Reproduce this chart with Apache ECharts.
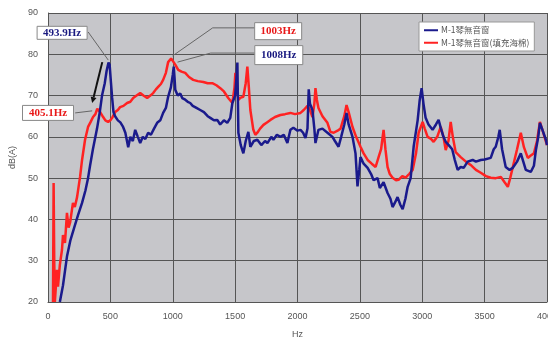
<!DOCTYPE html>
<html><head><meta charset="utf-8">
<script src="https://cdn.jsdelivr.net/npm/echarts@6/dist/echarts.min.js"></script>
<style>html,body{margin:0;padding:0;background:#fff}#c{width:548px;height:338px}</style>
</head><body><div id="c"></div>
<script>
const xTicks = [0, 4000, 500];
const yTicks = [20, 90, 10];
const seriesNames = ['M-1琴無音窗', 'M-1琴無音窗(填充海棉)'];
const blueData = [[95,20],[120,24],[152,31],[180,35],[210,38],[240,41],[273,44],[300,47],[321,50],[337,53],[360,57],[393,62],[415,66],[433,70],[455,73],[470,76],[485,78],[494,77.5],[505,73],[514,69.5],[525,66],[538,65],[560,64],[580,63.5],[602,62.4],[620,61],[643,57.5],[660,60],[680,59],[699,61.7],[720,60],[739,58.5],[760,60],[780,59.5],[803,61],[825,60.5],[850,62],[875,63.4],[900,64],[923,65.8],[945,67],[963,69.7],[985,72],[1000,75],[1008,77],[1015,74],[1020,71.4],[1040,70],[1060,70.5],[1076,69.4],[1100,69],[1120,68.5],[1140,68.2],[1160,67.5],[1190,67],[1220,66.5],[1250,66],[1280,65],[1301,64.6],[1330,64],[1357,64.1],[1380,63],[1410,64],[1437,63.4],[1461,64.6],[1478,68.2],[1500,70],[1510,74],[1518,78],[1526,61],[1545,58],[1566,56],[1585,59],[1606,61.2],[1622,57.6],[1650,59],[1678,59.3],[1710,58],[1740,59],[1759,58.5],[1790,60],[1807,59.3],[1835,60.5],[1863,60],[1890,60.5],[1919,58.5],[1943,61.7],[1967,62.2],[2000,61.5],[2024,61.7],[2045,61],[2064,59.7],[2080,62],[2090,71.5],[2100,68],[2120,66.5],[2135,62],[2144,58.5],[2168,61.7],[2200,62],[2240,61],[2280,60],[2300,59],[2329,57.6],[2350,60],[2375,63],[2393,65.8],[2410,63],[2441,60],[2465,56],[2481,48],[2495,52],[2505,55.1],[2530,53.5],[2562,52.5],[2590,51],[2610,49.5],[2642,50],[2660,47.6],[2690,49],[2722,46.4],[2745,45],[2762,43],[2780,44],[2802,45.4],[2825,43.5],[2843,42.5],[2865,45],[2883,47.9],[2907,50],[2931,57.6],[2963,64],[2980,69],[2995,71.8],[3010,68],[3027,64.6],[3050,63],[3083,61.7],[3110,63],[3131,64.1],[3150,62],[3170,60],[3188,58.8],[3212,58],[3240,57],[3260,54.5],[3284,52],[3308,52.7],[3332,52.5],[3364,54],[3404,54.4],[3430,54],[3469,54.4],[3500,54.5],[3549,54.9],[3573,57],[3589,57.6],[3610,60],[3621,61.7],[3640,57],[3669,52.7],[3700,52],[3726,52.5],[3760,54],[3790,56],[3810,54],[3830,52],[3870,51.5],[3895,53],[3911,56.8],[3930,60],[3943,63.4],[3960,62],[3991,59.3],[4000,58]];
const redData = [[40,20],[45,48.8],[50,30],[55,20],[72,27.8],[80,23.7],[95,29],[112,32.6],[120,36.2],[136,34.3],[152,41.6],[165,38],[177,39.2],[200,44],[215,43],[233,45.4],[257,50.3],[273,54.4],[297,59.3],[321,62.4],[340,63.5],[361,64.8],[380,65.5],[395,66.8],[405,67],[418,66],[442,64.8],[460,64],[482,63.6],[500,64],[514,64.6],[538,66],[560,66.5],[578,67.2],[605,67.5],[634,68.2],[660,68.5],[683,69.4],[710,70],[739,70.6],[765,70],[795,69.4],[820,70],[843,70.6],[865,71.5],[883,72.1],[905,72.8],[923,73.8],[945,75.5],[963,78.1],[987,79],[1003,79],[1020,77.5],[1044,76.2],[1070,75.8],[1100,75.5],[1130,74.5],[1164,73.8],[1200,73.5],[1245,73.3],[1280,73],[1317,73],[1350,72.5],[1381,71.8],[1410,71],[1445,69.4],[1478,68.2],[1495,72],[1502,75.5],[1512,72],[1526,69],[1545,69.5],[1566,69.7],[1585,73],[1598,77],[1610,72],[1622,66.5],[1646,61.7],[1662,60.5],[1678,61],[1700,62],[1727,62.9],[1755,63.5],[1783,64.1],[1820,64.8],[1863,65.3],[1900,65.5],[1943,65.8],[1980,65.5],[2024,65.8],[2050,66.5],[2080,67.5],[2100,66.5],[2120,64.8],[2135,68],[2144,71.8],[2155,69],[2168,67],[2200,65],[2240,63.4],[2264,61.2],[2290,61],[2321,61.5],[2345,62],[2375,65],[2393,67.7],[2410,66],[2441,62.4],[2470,60],[2505,57.6],[2530,56],[2562,54.4],[2595,53.5],[2626,52.7],[2650,55.1],[2670,57],[2690,61.7],[2705,57],[2722,52.7],[2740,51],[2762,50.1],[2790,49.5],[2810,49.6],[2840,50.5],[2867,50.1],[2895,51],[2923,52],[2950,56],[2971,61],[3003,63.6],[3020,62],[3043,60],[3070,59.5],[3091,58.8],[3120,60],[3148,62.4],[3170,60],[3188,56.8],[3210,59],[3228,63.6],[3245,60],[3268,56.3],[3308,55.1],[3350,54],[3388,53.2],[3430,52],[3469,51.3],[3510,50.5],[3549,50.1],[3590,50],[3630,50.3],[3660,49],[3686,47.9],[3705,50],[3726,52.7],[3760,57],[3790,61],[3815,57.5],[3846,54.9],[3870,55.5],[3895,56],[3920,59],[3943,63.6],[3970,61],[4000,58]];
// annotations: label, colour, box centre [Hz,dB], leader path in [Hz,dB]
const annoLabels = ['493.9Hz', '405.1Hz', '1003Hz', '1008Hz'];
const annoColors = ['#1a1a80', '#e81818', '#e81818', '#1a1a80'];
const annoCentres = [[113, 85.2], [0, 65.8], [1845, 85.6], [1850, 79.8]];
const annoPaths = [
  [[322, 85.4], [483, 78.6]],
  [[218, 65.8], [354, 66.3]],
  [[998, 79.6], [1320, 86.4], [1660, 86.4]],
  [[1038, 78.1], [1304, 80.3], [1660, 80.3]]
];
const arrowPath = [[435, 78.1], [354, 68.2]];

const chart = echarts.init(document.getElementById('c'));
const axisFont = {fontFamily: 'Liberation Sans', fontSize: 9, color: '#555'};
chart.setOption({
  animation: false,
  grid: {left: 48, right: 1, top: 13, bottom: 36, show: true, backgroundColor: '#c6c6ca', borderWidth: 0, containLabel: false, outerBoundsMode: 'none'},
  legend: {
    orient: 'vertical', left: 419, top: 22, backgroundColor: '#fff', borderColor: '#999', borderWidth: 1,
    padding: [4, 5, 4, 5], itemGap: 4, itemWidth: 14, itemHeight: 2, icon: 'rect',
    textStyle: {fontFamily: 'Noto Sans CJK TC', fontSize: 8.5, color: '#555', padding: [0, 0, 0, -2]},
    data: seriesNames
  },
  xAxis: {
    type: 'value', min: xTicks[0], max: xTicks[1], interval: xTicks[2],
    name: 'Hz', nameLocation: 'middle', nameGap: 28, nameTextStyle: axisFont,
    axisLine: {show: true, lineStyle: {color: '#555'}}, axisTick: {show: false},
    axisLabel: Object.assign({margin: 10, formatter: v => String(v)}, axisFont),
    splitLine: {show: true, lineStyle: {color: '#555', width: 1}}
  },
  yAxis: {
    type: 'value', min: yTicks[0], max: yTicks[1], interval: yTicks[2],
    name: 'dB(A)', nameLocation: 'middle', nameGap: 25, nameTextStyle: axisFont,
    axisLine: {show: true, lineStyle: {color: '#555'}}, axisTick: {show: false},
    axisLabel: Object.assign({margin: 10}, axisFont),
    splitLine: {show: true, lineStyle: {color: '#555', width: 1}}
  },
  series: [
    {name: seriesNames[0], type: 'line', data: blueData, showSymbol: false, color: '#1a1a8c', lineStyle: {width: 2.5, color: '#1a1a8c'}, z: 3},
    {name: seriesNames[1], type: 'line', data: redData, showSymbol: false, color: '#ff2222', lineStyle: {width: 2.5, color: '#ff2222'}, z: 2}
  ]
});

const px = p => chart.convertToPixel({gridIndex: 0}, p);
const g = [];
annoPaths.forEach(path => {
  g.push({type: 'polyline', shape: {points: path.map(px)}, style: {stroke: '#666', lineWidth: 1, fill: null}, z: 10});
});
const boxSizes = [[50, 13], [51, 15], [47, 17], [48, 19]];
annoLabels.forEach((t, i) => {
  const c = px(annoCentres[i]);
  const [w, h] = boxSizes[i];
  g.push({type: 'rect', shape: {x: c[0] - w / 2, y: c[1] - h / 2, width: w, height: h},
    style: {fill: '#fff', stroke: '#888', lineWidth: 1}, z: 11});
  g.push({type: 'text', x: c[0], y: c[1], style: {text: t, fill: annoColors[i], font: 'bold 11px "Liberation Serif"', align: 'center', verticalAlign: 'middle'}, z: 12});
});
const a0 = px(arrowPath[0]), a1 = px(arrowPath[1]);
const ang = Math.atan2(a1[1] - a0[1], a1[0] - a0[0]);
const hl = 6, hw = 3;
const bx = a1[0] - hl * Math.cos(ang), by = a1[1] - hl * Math.sin(ang);
g.push({type: 'line', shape: {x1: a0[0], y1: a0[1], x2: bx, y2: by}, style: {stroke: '#111', lineWidth: 2}, z: 10});
g.push({type: 'polygon', shape: {points: [a1, [bx + hw * Math.sin(ang), by - hw * Math.cos(ang)], [bx - hw * Math.sin(ang), by + hw * Math.cos(ang)]]}, style: {fill: '#111'}, z: 10});
chart.setOption({graphic: g});
</script></body></html>
